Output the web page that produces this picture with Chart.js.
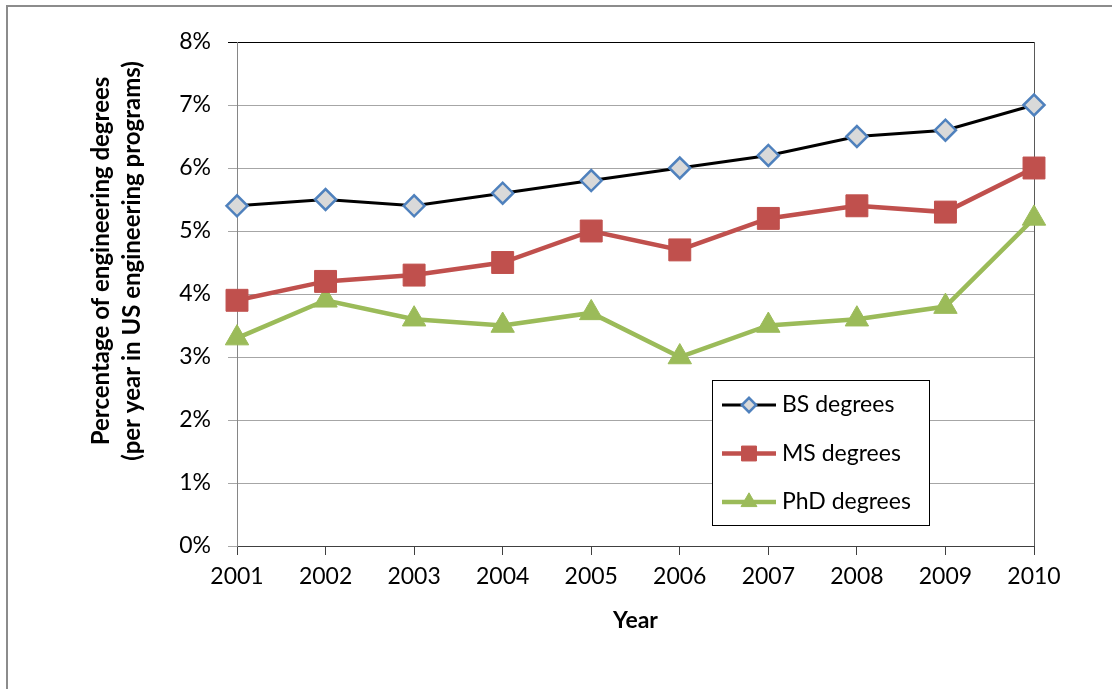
<!DOCTYPE html>
<html>
<head>
<meta charset="utf-8">
<script src="https://cdn.jsdelivr.net/npm/chart.js@4.4.1/dist/chart.umd.min.js"></script>
<style>
  html, body { margin: 0; padding: 0; background: #fff; }
  #wrap { position: relative; width: 1112px; height: 689px; }
  #frame { position: absolute; left: 6px; top: 5px; right: -10px; bottom: -10px;
           border-left: 2px solid #8c8c8c; border-top: 2px solid #8c8c8c; }
  canvas { position: absolute; left: 0; top: 0; }
</style>
</head>
<body>
<div id="wrap">
  <canvas id="chart" width="1112" height="689"></canvas>
  <div id="frame"></div>
</div>
<script>
// данные графика
const years = ['2001', '2002', '2003', '2004', '2005', '2006', '2007', '2008', '2009', '2010'];
const bsDegrees = [5.4, 5.5, 5.4, 5.6, 5.8, 6.0, 6.2, 6.5, 6.6, 7.0];
const msDegrees = [3.9, 4.2, 4.3, 4.5, 5.0, 4.7, 5.2, 5.4, 5.3, 6.0];
const phdDegrees = [3.3, 3.9, 3.6, 3.5, 3.7, 3.0, 3.5, 3.6, 3.8, 5.2];
const yTitle = ['Percentage of engineering degrees', '(per year in US engineering programs)'];

const FONT = 'Lato, "Open Sans", sans-serif';

// подпись оси Y (две строки, чуть выше центра, как в Excel)
const yTitlePlugin = {
    id: 'yTitlePlugin',
    afterDraw(chart) {
        const ctx = chart.ctx;
        ctx.save();
        ctx.translate(101, 261);
        ctx.rotate(-Math.PI / 2);
        ctx.font = 'bold 24px ' + FONT;
        ctx.fillStyle = '#000';
        ctx.textAlign = 'center';
        ctx.textBaseline = 'middle';
        ctx.fillText(yTitle[0], 0, 0);
        ctx.fillText(yTitle[1], 0, 31);
        ctx.restore();
    }
};

// легенда в рамке поверх области графика
const boxLegend = {
    id: 'boxLegend',
    afterDraw(chart) {
        const ctx = chart.ctx;
        ctx.save();
        ctx.fillStyle = '#fff';
        ctx.fillRect(712.5, 380.5, 217, 145);
        ctx.strokeStyle = '#000';
        ctx.lineWidth = 1;
        ctx.strokeRect(712.5, 380.5, 217, 145);
        chart.data.datasets.forEach((ds, i) => {
            const y = 405 + i * 48.5;
            ctx.strokeStyle = ds.borderColor;
            ctx.lineWidth = ds.borderWidth;
            ctx.beginPath();
            ctx.moveTo(722, y);
            ctx.lineTo(776, y);
            ctx.stroke();
            ctx.fillStyle = ds.pointBackgroundColor;
            ctx.strokeStyle = ds.pointBorderColor;
            ctx.lineWidth = ds.pointBorderWidth;
            Chart.helpers.drawPoint(ctx, {
                pointStyle: ds.pointStyle,
                radius: ds.pointRadius * 0.68,
                borderWidth: ds.pointBorderWidth,
                rotation: 0
            }, 749, y);
            ctx.fillStyle = '#000';
            ctx.font = '23px ' + FONT;
            ctx.textAlign = 'left';
            ctx.textBaseline = 'middle';
            ctx.fillText(ds.label, 782, y);
        });
        ctx.restore();
    }
};

const ctx = document.getElementById('chart').getContext('2d');
const myChart = new Chart(ctx, {
    type: 'line',
    data: {
        labels: years,
        datasets: [{
            label: 'BS degrees',
            data: bsDegrees,
            borderColor: '#000000',
            borderWidth: 3,
            pointStyle: 'rectRot',
            pointRadius: 10.5,
            pointBackgroundColor: '#d9d9d9',
            pointBorderColor: '#4f81bd',
            pointBorderWidth: 2.5,
            clip: false
        }, {
            label: 'MS degrees',
            data: msDegrees,
            borderColor: '#c0504d',
            borderWidth: 4.5,
            pointStyle: 'rect',
            pointRadius: 15.5,
            pointBackgroundColor: '#c0504d',
            pointBorderColor: '#c0504d',
            pointBorderWidth: 1,
            clip: false
        }, {
            label: 'PhD degrees',
            data: phdDegrees,
            borderColor: '#9bbb59',
            borderWidth: 4.5,
            pointStyle: 'triangle',
            pointRadius: 13.5,
            pointBackgroundColor: '#9bbb59',
            pointBorderColor: '#9bbb59',
            pointBorderWidth: 1,
            clip: false
        }]
    },
    options: {
        responsive: false,
        animation: false,
        events: [],
        layout: { padding: { left: 0, top: 42, right: 78, bottom: 0 } },
        plugins: {
            legend: { display: false },
            tooltip: { enabled: false }
        },
        elements: { line: { tension: 0 } },
        scales: {
            x: {
                offset: false,
                afterFit(scale) { scale.height = 143; },
                grid: {
                    color: (c) => c.index === years.length - 1 ? '#595959' : 'rgba(0,0,0,0)',
                    tickColor: '#404040',
                    tickLength: 9,
                    lineWidth: 1
                },
                border: { color: '#404040', width: 1 },
                ticks: {
                    color: '#000',
                    padding: 8,
                    maxRotation: 0,
                    font: { family: FONT, size: 23 }
                },
                title: {
                    display: true,
                    text: 'Year',
                    color: '#000',
                    font: { family: FONT, size: 23, weight: 'bold' },
                    padding: { top: 0, bottom: 55 }
                }
            },
            y: {
                min: 0,
                max: 8,
                afterFit(scale) { scale.width = 237; },
                grid: {
                    color: (c) => c.tick && c.tick.value === 8 ? '#000000' : '#a6a6a6',
                    tickLength: 9,
                    lineWidth: 1
                },
                border: { color: '#868686', width: 1 },
                ticks: {
                    stepSize: 1,
                    color: '#000',
                    padding: 17,
                    font: { family: FONT, size: 23 },
                    callback: (v) => v + '%'
                }
            }
        }
    },
    plugins: [yTitlePlugin, boxLegend]
});
</script>
</body>
</html>
